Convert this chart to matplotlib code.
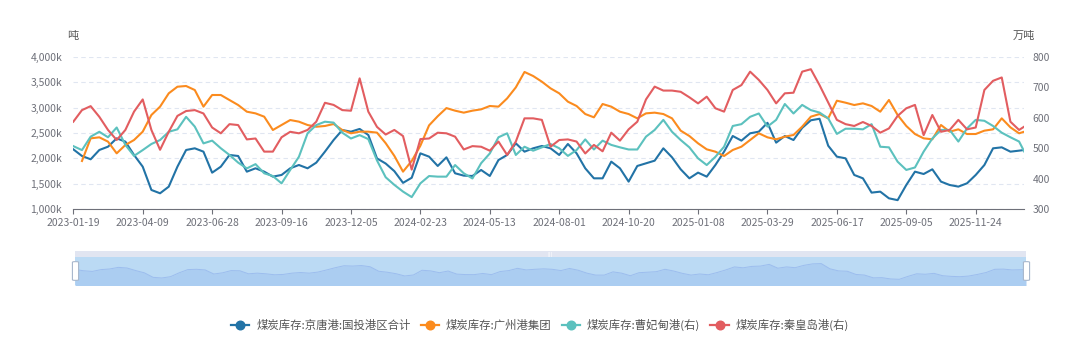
import matplotlib
matplotlib.use('Agg')
import matplotlib.pyplot as plt
import numpy as np
import pandas as pd
from matplotlib.patches import FancyBboxPatch, Rectangle

plt.rcParams['font.family'] = ['Noto Sans CJK SC', 'DejaVu Sans']

# ---------------- data ----------------
start = pd.Timestamp('2023-01-19')
end = pd.Timestamp('2026-01-19')
dates = list(pd.date_range(start, periods=110, freq='10D')) + [end]

# 煤炭库存:京唐港:国投港区合计 (千吨, left axis)
jingtang = [2179, 2048, 1983, 2166, 2231, 2395, 2330, 2068, 1838, 1380,
            1315, 1445, 1838, 2166, 2199, 2133, 1720, 1838, 2068, 2048,
            1740, 1806, 1740, 1642, 1675, 1806, 1871, 1806, 1917, 2133,
            2362, 2559, 2526, 2580, 2461, 2000, 1900, 1750, 1520, 1620,
            2100, 2035, 1852, 2022, 1708, 1662, 1655, 1773, 1655, 1969,
            2068, 2297, 2133, 2199, 2245, 2199, 2068, 2284, 2101, 1806,
            1609, 1609, 1937, 1806, 1544, 1852, 1904, 1956, 2199, 2022,
            1786, 1609, 1721, 1642, 1871, 2133, 2441, 2350, 2494, 2526,
            2700, 2310, 2441, 2362, 2600, 2750, 2780, 2250, 2035, 2002,
            1675, 1609, 1328, 1347, 1216, 1180, 1478, 1740, 1694, 1786,
            1544, 1478, 1446, 1511, 1675, 1871, 2199, 2218, 2133, 2153,
            2166]

# 煤炭库存:广州港集团 (千吨, left axis)
guangzhou = [np.nan, 1950, 2395, 2415, 2330, 2100, 2264, 2362, 2526, 2854,
             3018, 3280, 3410, 3424, 3345, 3018, 3247, 3247, 3148, 3050,
             2919, 2886, 2821, 2559, 2657, 2755, 2723, 2657, 2623, 2638,
             2677, 2559, 2494, 2526, 2526, 2507, 2300, 2050, 1740, 1950,
             2250, 2650, 2830, 2990, 2939, 2900, 2939, 2965, 3031, 3018,
             3181, 3397, 3700, 3620, 3509, 3378, 3280, 3116, 3031, 2873,
             2808, 3070, 3018, 2919, 2873, 2788, 2886, 2900, 2873, 2788,
             2546, 2441, 2297, 2179, 2133, 2048, 2166, 2231, 2362, 2494,
             2415, 2376, 2428, 2461, 2625, 2821, 2873, 2788, 3135, 3096,
             3050, 3083, 3031, 2919, 3149, 2854, 2638, 2480, 2395, 2376,
             2657, 2526, 2572, 2480, 2480, 2546, 2572, 2788, 2611, 2494,
             2526]

# 煤炭库存:曹妃甸港 (万吨, right axis)
caofeidian = [507, 494, 538, 554, 536, 568, 511, 475, 494, 514,
              527, 554, 562, 603, 571, 516, 525, 500, 478, 453,
              434, 448, 418, 409, 385, 429, 472, 549, 576, 587,
              584, 551, 532, 543, 530, 460, 405, 380, 358, 340,
              385, 409, 407, 407, 445, 418, 401, 451, 483, 536,
              549, 478, 505, 492, 503, 514, 500, 475, 494, 529,
              496, 525, 511, 503, 496, 496, 538, 560, 593, 554,
              527, 503, 467, 445, 472, 505, 573, 579, 603, 614,
              571, 593, 645, 614, 642, 625, 617, 598, 547, 564,
              564, 562, 579, 505, 503, 456, 429, 437, 489, 532,
              560, 560, 522, 565, 593, 590, 573, 551, 536, 522,
              489]

# 煤炭库存:秦皇岛港 (万吨, right axis)
qinhuangdao = [587, 625, 638, 603, 560, 527, 560, 620, 660, 560,
               495, 554, 606, 622, 625, 614, 568, 549, 579, 576,
               529, 532, 489, 489, 536, 554, 549, 560, 587, 649,
               642, 625, 623, 729, 620, 570, 545, 560, 540, 430,
               530, 532, 551, 549, 538, 496, 507, 505, 492, 522,
               478, 522, 598, 598, 593, 505, 527, 529, 522, 483,
               511, 490, 551, 525, 562, 587, 660, 702, 689, 689,
               685, 667, 647, 669, 631, 620, 691, 707, 751, 724,
               691, 647, 680, 682, 751, 759, 707, 650, 593, 579,
               573, 586, 573, 551, 565, 606, 631, 642, 543, 609,
               554, 560, 593, 562, 568, 691, 721, 732, 587, 560,
               571]

names = ['煤炭库存:京唐港:国投港区合计', '煤炭库存:广州港集团',
         '煤炭库存:曹妃甸港(右)', '煤炭库存:秦皇岛港(右)']
colors = ['#2273a6', '#fb8b1e', '#5cc1be', '#e25d60']

tick_dates = pd.date_range(start, periods=14, freq='80D')
left_ticks = [1000, 1500, 2000, 2500, 3000, 3500, 4000]
right_ticks = [300, 400, 500, 600, 700, 800]

# ---------------- figure ----------------
W, H = 1080, 341
fig = plt.figure(figsize=(W / 100, H / 100), dpi=100)
fig.patch.set_facecolor('white')


def rect(x0, y0, x1, y1):
    return [x0 / W, 1 - y1 / H, (x1 - x0) / W, (y1 - y0) / H]


label_c = '#6e7079'
ax = fig.add_axes(rect(73.3, 56.7, 1024.3, 209.3))
ax2 = ax.twinx()

ax.plot(dates, jingtang, color=colors[0], lw=1.5, zorder=3)
ax.plot(dates, guangzhou, color=colors[1], lw=1.5, zorder=3)
ax2.plot(dates, caofeidian, color=colors[2], lw=1.5, zorder=3)
ax2.plot(dates, qinhuangdao, color=colors[3], lw=1.5, zorder=4)

ax.set_xlim(start, end)
ax.set_ylim(left_ticks[0], left_ticks[-1])
ax2.set_ylim(right_ticks[0], right_ticks[-1])

ax.set_yticks(left_ticks)
ax.set_yticklabels([f'{v:,}k' for v in left_ticks])
ax2.set_yticks(right_ticks)
ax2.set_yticklabels([str(v) for v in right_ticks])
ax.set_xticks(tick_dates)
ax.set_xticklabels([d.strftime('%Y-%m-%d') for d in tick_dates])

for a in (ax, ax2):
    for s in ('top', 'left', 'right'):
        a.spines[s].set_visible(False)
ax2.spines['bottom'].set_visible(False)
ax.spines['bottom'].set_color(label_c)
ax.spines['bottom'].set_linewidth(0.8)

ax.tick_params(axis='y', length=0, pad=8, labelsize=7.5, labelcolor=label_c)
ax2.tick_params(axis='y', length=0, pad=6, labelsize=7.5, labelcolor=label_c)
ax.tick_params(axis='x', length=3.5, width=0.8, color=label_c, pad=3,
               labelsize=7.5, labelcolor=label_c)

ax.grid(axis='y', color='#e0e6f1', lw=0.8, ls=(0, (4, 3)))
ax.grid(axis='x', visible=False)
ax.set_axisbelow(True)

fig.text(73 / W, 1 - 36 / H, '吨', fontsize=8, color='#555555', ha='center', va='center')
fig.text(1024 / W, 1 - 36 / H, '万吨', fontsize=8, color='#555555', ha='center', va='center')

# ---------------- data zoom slider ----------------
sx0, sx1 = 75, 1026
top_bar = fig.add_axes(rect(sx0, 251, sx1, 257))
top_bar.set_facecolor('#e1e5f1')
top_bar.set_xticks([])
top_bar.set_yticks([])
for s in top_bar.spines.values():
    s.set_visible(False)
top_bar.text(0.5, 0.5, '|||', fontsize=3.5, color='#ffffff', ha='center',
             va='center', transform=top_bar.transAxes, family='DejaVu Sans')

sl = fig.add_axes(rect(sx0, 257, sx1, 285))
sl.set_facecolor('#bbdaf4')
sl.fill_between(dates, jingtang, 0, color='#abcdf1', lw=0)
sl.plot(dates, jingtang, color='#9cbdee', lw=0.7)
sl.set_xlim(start, end)
sl.set_ylim(600, 3450)
sl.set_xticks([])
sl.set_yticks([])
for s in sl.spines.values():
    s.set_visible(False)

for hx in (sx0 - 1.5, sx1 - 1.5):
    hp = FancyBboxPatch((hx / W, 1 - 280 / H), 4 / W, 18 / H,
                        boxstyle='round,pad=0.001,rounding_size=0.002',
                        transform=fig.transFigure, facecolor='white',
                        edgecolor='#a7b7cc', lw=0.8, zorder=10)
    fig.patches.append(hp)

# ---------------- legend ----------------
handles = [plt.Line2D([], [], color=c, lw=1.6, marker='o', markersize=6.2)
           for c in colors]
leg = fig.legend(handles, names, loc='center', ncol=4,
                 bbox_to_anchor=(0.5, 1 - 325 / H), frameon=False,
                 fontsize=8.2, handlelength=1.6, handletextpad=0.6,
                 columnspacing=0.9, borderaxespad=0)
for t in leg.get_texts():
    t.set_color('#555555')

fig.savefig('out.png', dpi=100, facecolor='white')
